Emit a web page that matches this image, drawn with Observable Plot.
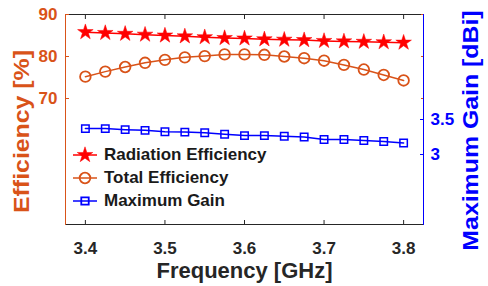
<!DOCTYPE html>
<html><head><meta charset="utf-8">
<script src="https://cdn.jsdelivr.net/npm/d3@7"></script>
<script src="https://cdn.jsdelivr.net/npm/@observablehq/plot@0.6"></script>
<style>
body{margin:0;background:#fff;}
#wrap{position:relative;width:488px;height:286px;font-family:"Liberation Sans",Arial,sans-serif;}
.leg{position:absolute;left:72px;display:flex;align-items:center;font-weight:bold;font-size:17px;color:#1a1a1a;white-space:nowrap;}
.leg svg{margin-right:6px;}
</style></head><body><div id="wrap"></div>
<script>
const frequency = [3.4, 3.425, 3.45, 3.475, 3.5, 3.525, 3.55, 3.575, 3.6, 3.625, 3.65, 3.675, 3.7, 3.725, 3.75, 3.775, 3.8];
const radiationEfficiency = [85.8, 85.6, 85.4, 85.2, 85.0, 84.8, 84.6, 84.4, 84.3, 84.1, 84.0, 83.9, 83.7, 83.6, 83.5, 83.4, 83.3];
const totalEfficiency = [75.2, 76.4, 77.5, 78.5, 79.2, 79.8, 80.1, 80.5, 80.5, 80.4, 80.0, 79.6, 79.0, 78.0, 76.9, 75.6, 74.3];
const maximumGain = [3.37, 3.37, 3.355, 3.345, 3.325, 3.32, 3.31, 3.29, 3.27, 3.27, 3.26, 3.25, 3.215, 3.215, 3.2, 3.185, 3.165];
const seriesNames = ["Radiation Efficiency", "Total Efficiency", "Maximum Gain"];
const axisTitles = ["Frequency [GHz]", "Efficiency [%]", "Maximum Gain [dBi]"];
const xTicks = [3.4, 3.5, 3.6, 3.7, 3.8];
const leftTicks = [70, 80, 90];
const rightTicks = [3, 3.5];
const xDomain = [3.375, 3.825];
const leftDomain = [40, 90];
const rightDomain = [2, 5];

const RED = "#ff0000", ORANGE = "#d95319", BLUE = "#0000ff", DARK = "#262626";
const FONT = "Liberation Sans, Arial, sans-serif";

const toLeft = g => leftDomain[0] + (g - rightDomain[0]) * (leftDomain[1] - leftDomain[0]) / (rightDomain[1] - rightDomain[0]);
const fromLeft = v => rightDomain[0] + (v - leftDomain[0]) * (rightDomain[1] - rightDomain[0]) / (leftDomain[1] - leftDomain[0]);

const rows = frequency.map((f, i) => ({f, rad: radiationEfficiency[i], tot: totalEfficiency[i], gain: toLeft(maximumGain[i])}));

const txt = {fontSize: 17, fontWeight: "bold", fontFamily: FONT};
const title = {fontSize: 22, fontWeight: "bold", fontFamily: FONT, textAnchor: "middle", lineAnchor: "middle"};

const chart = Plot.plot({
  width: 488, height: 286,
  marginLeft: 65, marginRight: 65, marginTop: 14, marginBottom: 62,
  style: {fontFamily: FONT, background: "white", overflow: "visible"},
  x: {domain: xDomain},
  y: {domain: leftDomain},
  marks: [
    Plot.frame({anchor: "top", stroke: DARK}),
    Plot.frame({anchor: "bottom", stroke: DARK}),
    Plot.frame({anchor: "left", stroke: ORANGE}),
    Plot.axisX(xTicks, {anchor: "bottom", tickSize: -4, stroke: DARK, tickFormat: () => "", label: null}),
    Plot.axisX(xTicks, {anchor: "top", tickSize: -4, stroke: DARK, tickFormat: () => "", label: null}),
    Plot.axisY(leftTicks, {anchor: "left", tickSize: -4, stroke: ORANGE, tickFormat: () => "", label: null}),
    Plot.axisY(leftTicks, {anchor: "right", tickSize: -3, stroke: ORANGE, tickFormat: () => "", label: null}),
    Plot.axisY(rightTicks.map(toLeft), {anchor: "right", tickSize: -4, stroke: BLUE, tickFormat: () => "", label: null}),
    Plot.frame({anchor: "right", stroke: BLUE}),
    Plot.axisX(xTicks, {anchor: "bottom", tickSize: 0, tickPadding: 17, fill: DARK, ...txt, tickFormat: d3.format(".1f"), label: null}),
    Plot.axisY(leftTicks, {anchor: "left", tickSize: 0, tickPadding: 8, fill: ORANGE, ...txt, label: null}),
    Plot.axisY(rightTicks.map(toLeft), {anchor: "right", tickSize: 0, tickPadding: 7, fill: BLUE, ...txt,
      tickFormat: d => String(+fromLeft(d).toFixed(2)), label: null}),
    Plot.text([axisTitles[0]], {text: d => d, frameAnchor: "bottom", dy: 46, fill: DARK, ...title}),
    Plot.text([axisTitles[1]], {text: d => d, frameAnchor: "left", rotate: -90, dx: -44, dy: 12, fill: ORANGE, ...title, className: "ytitle"}),
    Plot.text([axisTitles[2]], {text: d => d, frameAnchor: "right", rotate: -90, dx: 47, dy: 11, fill: BLUE, ...title, className: "ytitle"}),
    Plot.line(rows, {x: "f", y: "rad", stroke: RED, strokeWidth: 1.5}),
    Plot.dot(rows, {x: "f", y: "rad", symbol: "star", r: 4.9, fill: RED, stroke: RED, strokeWidth: 0.5}),
    Plot.line(rows, {x: "f", y: "tot", stroke: ORANGE, strokeWidth: 1.5}),
    Plot.dot(rows, {x: "f", y: "tot", symbol: "circle", r: 5.3, fill: "none", stroke: ORANGE, strokeWidth: 1.8}),
    Plot.line(rows, {x: "f", y: "gain", stroke: BLUE, strokeWidth: 1.5}),
    Plot.dot(rows, {x: "f", y: "gain", symbol: "square", r: 4.2, fill: "none", stroke: BLUE, strokeWidth: 1.5})
  ]
});
// stretch the vertical axis titles along their reading direction, as in the reference
d3.select(chart).selectAll("g.ytitle text").each(function() {
  const t = this.getAttribute("transform") || "";
  this.setAttribute("transform", t + " scale(1.13,1)");
});
const wrap = document.getElementById("wrap");
wrap.appendChild(chart);

// legend
const legendSpec = [
  {name: seriesNames[0], color: RED, symbol: d3.symbolStar, size: Math.PI * 4.9 * 4.9, fill: RED, top: 155},
  {name: seriesNames[1], color: ORANGE, symbol: d3.symbolCircle, size: Math.PI * 5.3 * 5.3, fill: "none", top: 178},
  {name: seriesNames[2], color: BLUE, symbol: d3.symbolSquare, size: Math.PI * 4.2 * 4.2, fill: "none", top: 201}
];
legendSpec.forEach(s => {
  const div = document.createElement("div");
  div.className = "leg";
  div.style.top = (s.top - 11) + "px";
  const svg = d3.create("svg").attr("width", 26).attr("height", 22);
  svg.append("line").attr("x1", 1).attr("x2", 25).attr("y1", 11).attr("y2", 11).attr("stroke", s.color).attr("stroke-width", 1.5);
  svg.append("path").attr("d", d3.symbol(s.symbol, s.size)()).attr("transform", "translate(13,11)")
    .attr("fill", s.fill).attr("stroke", s.color).attr("stroke-width", s.fill === "none" ? 1.8 : 0.5);
  div.appendChild(svg.node());
  const span = document.createElement("span");
  span.textContent = s.name;
  div.appendChild(span);
  wrap.appendChild(div);
});
</script></body></html>
